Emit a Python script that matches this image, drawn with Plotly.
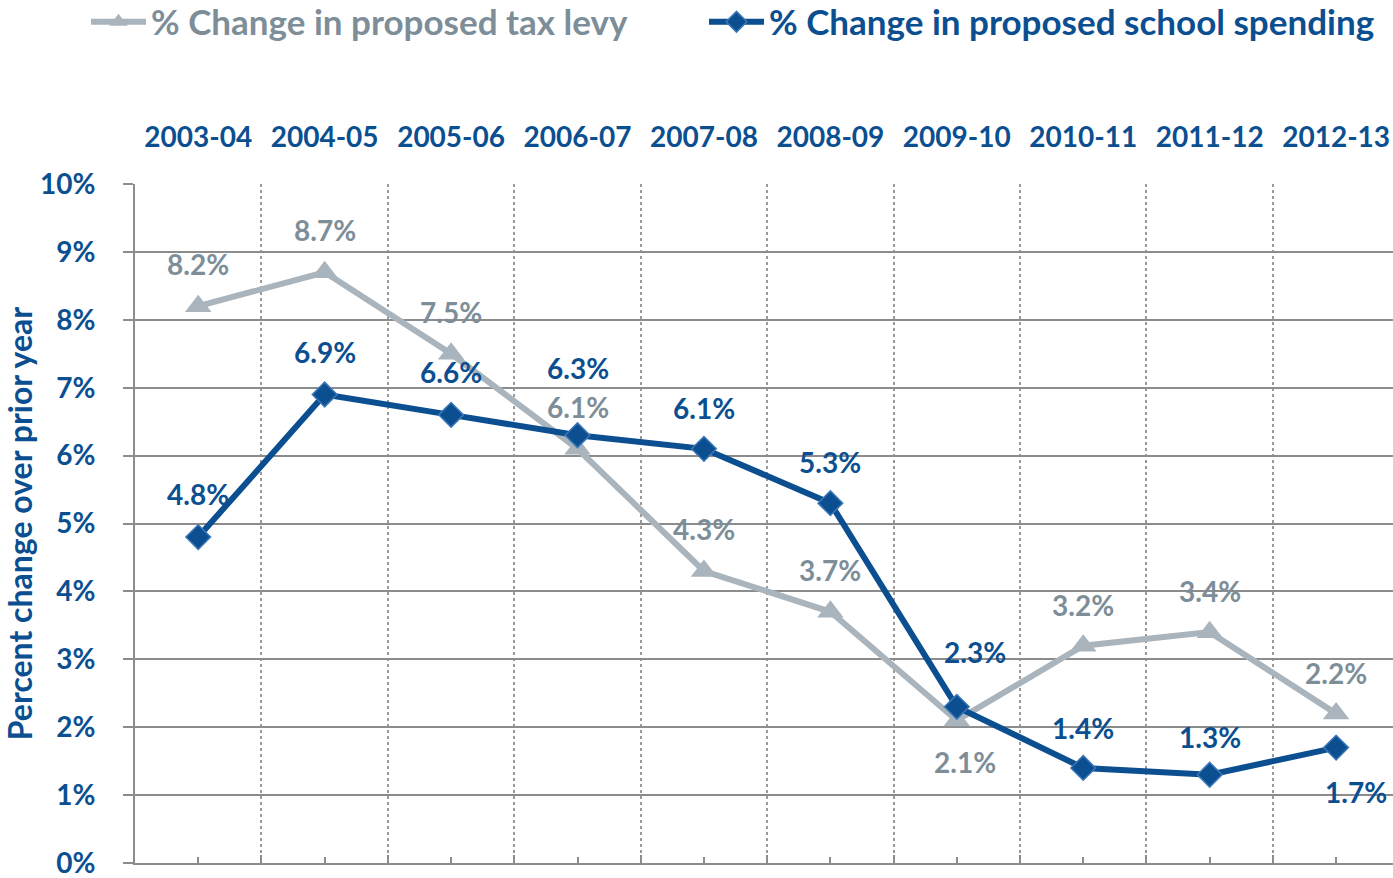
import plotly.graph_objects as go

categories = ["2003-04", "2004-05", "2005-06", "2006-07", "2007-08",
              "2008-09", "2009-10", "2010-11", "2011-12", "2012-13"]
tax_levy = [8.2, 8.7, 7.5, 6.1, 4.3, 3.7, 2.1, 3.2, 3.4, 2.2]
school_spending = [4.8, 6.9, 6.6, 6.3, 6.1, 5.3, 2.3, 1.4, 1.3, 1.7]
y_ticks = list(range(0, 11))

# label placement (pixel shifts relative to each point)
tax_shift = [(0, 42)] * 6 + [(8, -42)] + [(0, 41)] * 3
spend_shift = [(0, 43), (0, 42), (0, 43), (0, 67), (0, 41), (0, 41),
               (18, 55), (0, 40), (0, 38), (20, -44)]

GRAY_LINE = "#A9B4BC"
GRAY_TEXT = "#7D8E99"
BLUE = "#0B4F91"
BLUE_EDGE = "#3C78B8"
GRID = "#8C8C8C"
FONT = "Lato"

W, H = 1393, 878

x = list(range(len(categories)))

fig = go.Figure()
fig.add_trace(go.Scatter(
    x=x, y=tax_levy, mode="lines+markers",
    name="% Change in proposed tax levy", legend="legend",
    line=dict(color=GRAY_LINE, width=6),
    marker=dict(symbol="triangle-up", size=23, color=GRAY_LINE),
    xaxis="x", yaxis="y",
))
fig.add_trace(go.Scatter(
    x=x, y=school_spending, mode="lines+markers",
    name="% Change in proposed school spending", legend="legend2",
    line=dict(color=BLUE, width=6),
    marker=dict(symbol="diamond", size=19, color=BLUE,
                line=dict(color=BLUE_EDGE, width=1.5)),
    xaxis="x", yaxis="y",
))
# invisible trace so that the top category axis is drawn
fig.add_trace(go.Scatter(
    x=x, y=school_spending, mode="markers", marker=dict(opacity=0),
    showlegend=False, hoverinfo="skip", xaxis="x2", yaxis="y",
))

annotations = []
for i, v in enumerate(tax_levy):
    dx, dy = tax_shift[i]
    annotations.append(dict(x=i, y=v, xref="x", yref="y", text=f"{v:.1f}%",
                            showarrow=False, xshift=dx, yshift=dy,
                            font=dict(family=FONT, size=28, color=GRAY_TEXT, weight="bold")))
for i, v in enumerate(school_spending):
    dx, dy = spend_shift[i]
    annotations.append(dict(x=i, y=v, xref="x", yref="y", text=f"{v:.1f}%",
                            showarrow=False, xshift=dx, yshift=dy,
                            font=dict(family=FONT, size=28, color=BLUE, weight="bold")))

legend_common = dict(orientation="h", xref="container", yref="container",
                     xanchor="left", y=1 - 22 / H, yanchor="middle",
                     itemwidth=55, bgcolor="rgba(0,0,0,0)")

fig.update_layout(
    width=W, height=H,
    margin=dict(l=135, r=0, t=184, b=15, autoexpand=False),
    paper_bgcolor="white", plot_bgcolor="white",
    font=dict(family=FONT, color=BLUE),
    showlegend=True,
    legend=dict(x=86 / W, font=dict(family=FONT, size=35, weight="bold", color=GRAY_TEXT),
                **legend_common),
    legend2=dict(x=704 / W, font=dict(family=FONT, size=35, weight="bold", color=BLUE),
                 **legend_common),
    annotations=annotations,
    xaxis=dict(
        range=[-0.5, 9.45], side="bottom",
        tickmode="linear", tick0=-0.5, dtick=1,
        showticklabels=False, ticks="inside", ticklen=8, tickcolor=GRID, tickwidth=2,
        showgrid=True, gridcolor="#9A9A9A", griddash="dot", gridwidth=1.5,
        showline=True, linecolor=GRID, linewidth=2, zeroline=False,
        minor=dict(tick0=0, dtick=1, ticks="inside", ticklen=6, tickcolor=GRID,
                   tickwidth=2, showgrid=False),
    ),
    xaxis2=dict(
        range=[-0.5, 9.45], side="top", overlaying="x",
        tickmode="array", tickvals=x, ticktext=categories,
        showgrid=False, showline=False, ticks="", zeroline=False,
        ticklabelstandoff=30, ticklabeloverflow="allow",
        tickfont=dict(family=FONT, size=28, color=BLUE, weight="bold"),
    ),
    yaxis=dict(
        range=[0, 10], tickmode="array", tickvals=y_ticks,
        ticktext=[f"{t}%" for t in y_ticks],
        showgrid=True, gridcolor=GRID, gridwidth=2,
        showline=True, linecolor=GRID, linewidth=2,
        ticks="outside", ticklen=10, tickcolor=GRID, tickwidth=2,
        ticklabelstandoff=22, zeroline=False, automargin=False,
        ticklabeloverflow="allow",
        tickfont=dict(family=FONT, size=28, color=BLUE, weight="bold"),
        title=dict(text="Percent change over prior year", standoff=6,
                   font=dict(family=FONT, size=32, color=BLUE, weight="bold")),
    ),
)

fig.write_html(
    "out.html",
    config={"displayModeBar": False},
    post_script="document.body.style.margin='0';document.body.style.overflow='hidden';",
)
